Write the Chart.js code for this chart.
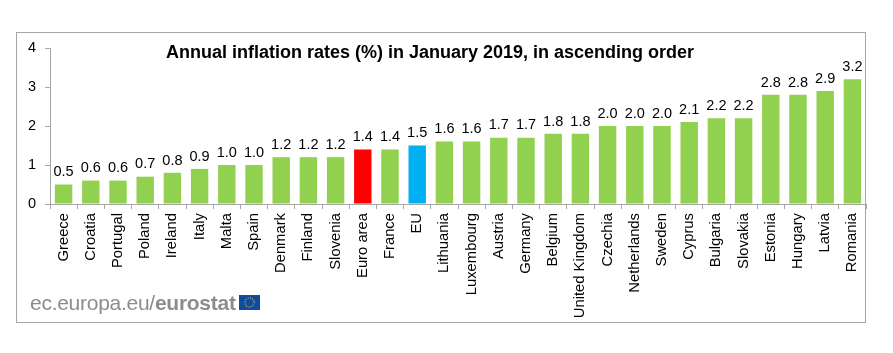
<!DOCTYPE html>
<html lang="en">
<head>
    <meta charset="UTF-8">
    <title>Annual inflation rates</title>
    <script src="https://cdn.jsdelivr.net/npm/chart.js"></script>
    <style>
        html, body { margin: 0; padding: 0; background: #fff; overflow: hidden; }
        #wrap { position: relative; width: 893px; height: 353px; font-family: "Liberation Sans", Arial, sans-serif; }
        canvas { position: absolute; left: 0; top: 0; }
        #frame { position: absolute; left: 16px; top: 32px; width: 848px; height: 289px; border: 1px solid #a6a6a6; }
        #title { position: absolute; left: 0; width: 860px; top: 42px; text-align: center; font-size: 18px; font-weight: bold; color: #000; line-height: 20px; }
        #logo { position: absolute; left: 30px; top: 290px; font-size: 21px; line-height: 26px; color: #8c8c8c; letter-spacing: -0.27px; white-space: nowrap; }
        #flag { position: absolute; left: 239px; top: 295px; }
    </style>
</head>
<body>
<div id="wrap">
    <div id="frame"></div>
    <canvas id="myChart" width="893" height="353"></canvas>
    <div id="title">Annual inflation rates (%) in January 2019, in ascending order</div>
    <div id="logo">ec.europa.eu/<b>eurostat</b></div>
    <svg id="flag" width="21" height="15" viewBox="0 0 21 15">
        <rect width="21" height="15" fill="#0f4c9c"/>
        <circle cx="10.5" cy="7.5" r="4.6" fill="none" stroke="#d8c83a" stroke-width="1.2" stroke-dasharray="1 1.4"/>
    </svg>
</div>
<script>
    const categories = ['Greece', 'Croatia', 'Portugal', 'Poland', 'Ireland', 'Italy', 'Malta', 'Spain', 'Denmark', 'Finland',
        'Slovenia', 'Euro area', 'France', 'EU', 'Lithuania', 'Luxembourg', 'Austria', 'Germany', 'Belgium', 'United Kingdom',
        'Czechia', 'Netherlands', 'Sweden', 'Cyprus', 'Bulgaria', 'Slovakia', 'Estonia', 'Hungary', 'Latvia', 'Romania'];
    const rates = [0.5, 0.6, 0.6, 0.7, 0.8, 0.9, 1.0, 1.0, 1.2, 1.2,
        1.2, 1.4, 1.4, 1.5, 1.6, 1.6, 1.7, 1.7, 1.8, 1.8,
        2.0, 2.0, 2.0, 2.1, 2.2, 2.2, 2.8, 2.8, 2.9, 3.2];
    const green = '#92d050';
    const barColors = categories.map(c => c === 'Euro area' ? '#ff0000' : c === 'EU' ? '#00b0f0' : green);

    // valeurs au-dessus des barres
    const valueLabels = {
        id: 'valueLabels',
        afterDatasetsDraw(chart) {
            const ctx = chart.ctx;
            ctx.save();
            ctx.font = '14.5px "Liberation Sans", Arial, sans-serif';
            ctx.fillStyle = '#000';
            ctx.textAlign = 'center';
            ctx.textBaseline = 'bottom';
            chart.getDatasetMeta(0).data.forEach((bar, i) => {
                ctx.fillText(rates[i].toFixed(1), bar.x, bar.y - 5);
            });
            ctx.restore();
        }
    };

    new Chart(document.getElementById('myChart').getContext('2d'), {
        type: 'bar',
        data: {
            labels: categories,
            datasets: [{
                data: rates,
                backgroundColor: barColors,
                barPercentage: 0.64,
                categoryPercentage: 1
            }]
        },
        options: {
            responsive: false,
            animation: false,
            layout: { padding: { top: 48, right: 27, left: 0, bottom: 0 } },
            plugins: { legend: { display: false }, title: { display: false }, tooltip: { enabled: false } },
            scales: {
                x: {
                    afterFit(scale) { scale.height = 149; },
                    grid: { offset: true, drawOnChartArea: false, drawTicks: true, tickLength: 5, color: '#a6a6a6' },
                    border: { color: '#a6a6a6' },
                    ticks: {
                        autoSkip: false, minRotation: 90, maxRotation: 90, padding: 4, color: '#000',
                        font: { family: '"Liberation Sans", Arial, sans-serif', size: 14.8 }
                    }
                },
                y: {
                    min: 0,
                    max: 4,
                    afterFit(scale) { scale.width = 50; },
                    grid: { drawOnChartArea: false, tickLength: 5, color: '#a6a6a6' },
                    border: { color: '#a6a6a6' },
                    ticks: {
                        stepSize: 1, padding: 9, color: '#000',
                        font: { family: '"Liberation Sans", Arial, sans-serif', size: 14.5 }
                    }
                }
            }
        },
        plugins: [valueLabels]
    });
</script>
</body>
</html>
